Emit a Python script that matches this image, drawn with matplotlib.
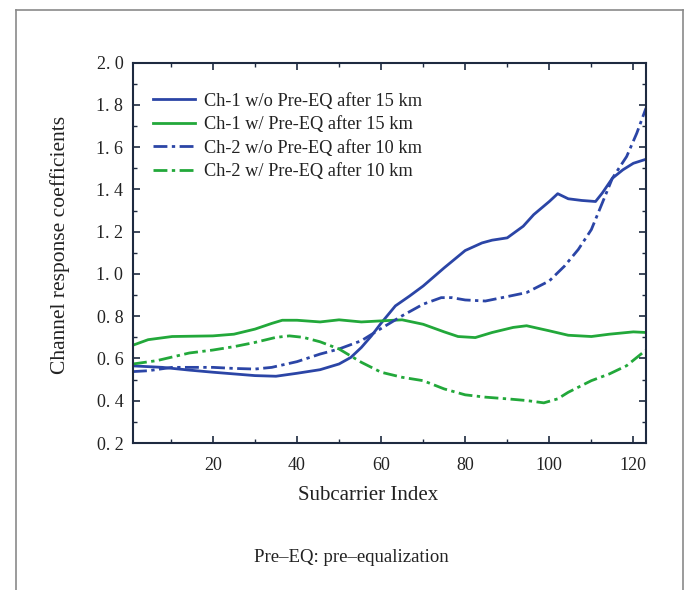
import matplotlib
matplotlib.use("Agg")
import matplotlib.pyplot as plt
from matplotlib.ticker import MultipleLocator, FuncFormatter
from matplotlib.lines import Line2D

# ---- data ----
x_ch1_wo = [1, 8, 14.4, 20, 25, 30, 35, 40, 45.5, 50, 52.8, 55.3, 57.7, 60, 63.4, 66.8, 70, 75, 80,
            84, 86.4, 90, 93.8, 96.3, 100, 102, 104.5, 107.7, 111, 112.6, 115, 117.5, 120, 123]
y_ch1_wo = [0.565, 0.558, 0.545, 0.535, 0.527, 0.519, 0.516, 0.530, 0.547, 0.574, 0.605, 0.652, 0.707,
            0.767, 0.849, 0.896, 0.943, 1.029, 1.111, 1.147, 1.160, 1.171, 1.226, 1.281, 1.343, 1.380,
            1.356, 1.348, 1.343, 1.383, 1.453, 1.493, 1.524, 1.543]

x_ch1_w = [1, 4.6, 10.3, 20, 25, 30, 34, 36.5, 40, 45.5, 50, 55.3, 60, 65, 70, 75, 78.3, 82.4, 86.4,
           91.4, 94.6, 100, 104.5, 110, 114.3, 120, 123]
y_ch1_w = [0.663, 0.689, 0.704, 0.707, 0.715, 0.739, 0.766, 0.781, 0.781, 0.773, 0.783, 0.773, 0.778,
           0.783, 0.762, 0.726, 0.704, 0.699, 0.723, 0.747, 0.755, 0.731, 0.710, 0.704, 0.715, 0.726, 0.723]

x_ch2_wo = [1, 4.6, 10.3, 20, 25, 30, 34, 40, 45.5, 50, 55.3, 60, 65, 70, 74.3, 76.8, 80, 84.8, 90,
            94.6, 100, 103.6, 106.9, 110, 112.6, 115, 118.4, 120.8, 123]
y_ch2_wo = [0.538, 0.542, 0.558, 0.558, 0.553, 0.550, 0.558, 0.585, 0.621, 0.645, 0.684, 0.742, 0.802,
            0.857, 0.888, 0.888, 0.877, 0.872, 0.893, 0.912, 0.967, 1.037, 1.116, 1.210, 1.336, 1.453,
            1.556, 1.666, 1.785]

x_ch2_w = [1, 6.7, 14.4, 20, 25, 30, 35, 38.2, 41.5, 45.5, 50, 55.3, 60, 65, 70, 75, 80, 84.8, 90,
           94.6, 98.7, 102, 104.5, 110, 114.3, 118.4, 123]
y_ch2_w = [0.574, 0.590, 0.626, 0.640, 0.656, 0.676, 0.700, 0.707, 0.700, 0.679, 0.645, 0.582, 0.535,
           0.511, 0.495, 0.456, 0.428, 0.417, 0.409, 0.401, 0.390, 0.409, 0.440, 0.495, 0.527, 0.566, 0.640]

labels = ["Ch-1 w/o Pre-EQ after 15 km", "Ch-1 w/ Pre-EQ after 15 km",
          "Ch-2 w/o Pre-EQ after 10 km", "Ch-2 w/ Pre-EQ after 10 km"]
xlabel = "Subcarrier Index"
ylabel = "Channel response coefficients"
footnote = "Pre–EQ: pre–equalization"

BLUE = "#2b45a6"
GREEN = "#22a83a"
SPINE = "#1e2a40"

plt.rcParams["font.family"] = ["Liberation Serif", "DejaVu Serif"]

fig = plt.figure(figsize=(6.89, 5.90), dpi=100)
ax = fig.add_axes([133 / 689, 1 - 443 / 590, (646 - 133) / 689, (443 - 62.7) / 590])

dashdot = (0, (5, 1.6, 1.2, 1.6))
ax.plot(x_ch1_wo, y_ch1_wo, color=BLUE, lw=2.0, label=labels[0])
ax.plot(x_ch1_w, y_ch1_w, color=GREEN, lw=2.0, label=labels[1])
ax.plot(x_ch2_wo, y_ch2_wo, color=BLUE, lw=2.0, linestyle=dashdot, label=labels[2])
ax.plot(x_ch2_w, y_ch2_w, color=GREEN, lw=2.0, linestyle=dashdot, label=labels[3])

ax.set_xlim(1, 123)
ax.set_ylim(0.2, 2.0)
ax.xaxis.set_major_locator(MultipleLocator(20))
ax.xaxis.set_minor_locator(MultipleLocator(10))
ax.yaxis.set_major_locator(MultipleLocator(0.2))
ax.yaxis.set_minor_locator(MultipleLocator(0.1))
ax.yaxis.set_major_formatter(FuncFormatter(lambda v, p: ("%.1f" % v).replace(".", ". ")))
ax.xaxis.set_major_formatter(FuncFormatter(lambda v, p: "" if v < 10 else "%d" % v))

ax.tick_params(which="both", direction="in", top=True, right=True, color=SPINE,
               labelsize=13, labelcolor="#222222")
ax.tick_params(which="major", length=5, width=1.2)
ax.tick_params(axis="y", which="major", pad=7)
ax.tick_params(axis="x", which="major", pad=10)
ax.tick_params(which="minor", length=3, width=1.0)
for s in ax.spines.values():
    s.set_color(SPINE)
    s.set_linewidth(1.5)

leg = ax.legend(loc="upper left", bbox_to_anchor=(0.039, 0.921), frameon=False,
                fontsize=13.2, handlelength=2.3, handletextpad=0.5, labelspacing=0.35,
                borderpad=0, borderaxespad=0)
for t in leg.get_texts():
    t.set_color("#222222")

fig.text(368 / 689, 1 - 496 / 590, xlabel, ha="center", va="center", fontsize=15, color="#222222")
fig.text(60 / 689, 1 - 245 / 590, ylabel, ha="center", va="center", rotation=90, fontsize=15.5,
         color="#222222")
fig.text(351 / 689, 1 - 557 / 590, footnote, ha="center", va="center", fontsize=13.5, color="#222222")

# outer frame
fc = "#8a8a8a"
x0, x1, yt = 16 / 689, 683 / 689, 1 - 9.5 / 590
fig.add_artist(Line2D([x0, x0], [0, yt], transform=fig.transFigure, color=fc, lw=1.2))
fig.add_artist(Line2D([x1, x1], [0, yt], transform=fig.transFigure, color=fc, lw=1.2))
fig.add_artist(Line2D([x0, x1], [yt, yt], transform=fig.transFigure, color=fc, lw=1.2))

fig.savefig("out.png", dpi=100)
